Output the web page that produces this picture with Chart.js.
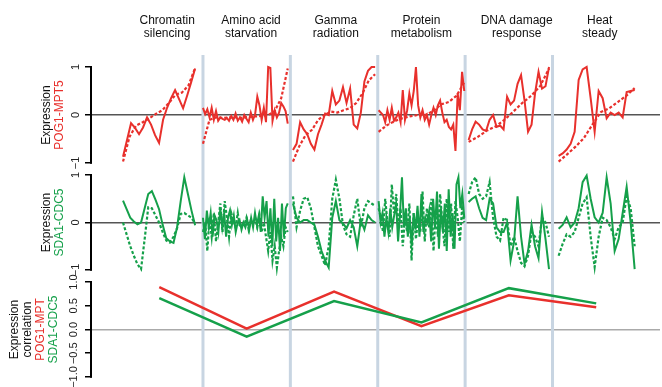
<!DOCTYPE html>
<html>
<head>
<meta charset="utf-8">
<script src="https://cdn.jsdelivr.net/npm/chart.js@4.4.1/dist/chart.umd.min.js"></script>
<style>
  html, body { margin: 0; padding: 0; background: #fff; }
</style>
</head>
<body>
<canvas id="graphCanvas" width="662" height="387"></canvas>
<script>
// conditions, one column each
var conditions = [
  ['Chromatin', 'silencing'],
  ['Amino acid', 'starvation'],
  ['Gamma', 'radiation'],
  ['Protein', 'metabolism'],
  ['DNA damage', 'response'],
  ['Heat', 'steady']
];

// POG1-MPT5 expression (solid / dotted), one list per condition
var pogSolid = [
  [-0.87,-0.52,-0.17,-0.27,-0.4,-0.26,-0.05,-0.2,-0.42,-0.58,-0.1,0.15,0.35,0.52,0.33,0.14,0.4,0.68,0.97],
  [0.15,0.02,0.12,-0.05,0.15,-0.1,0.08,-0.12,-0.05,-0.08,-0.1,-0.06,-0.12,-0.02,-0.1,0.03,-0.12,-0.05,-0.14,0.0,
   -0.08,-0.15,0.05,-0.1,0.02,0.38,0.2,-0.1,0.15,-0.15,1.0,0.98,-0.12,0.1,-0.05,0.05,0.25,0.18,0.08,-0.18],
  [-0.73,-0.6,-0.15,-0.3,-0.4,-0.6,-0.72,-0.4,-0.2,0.03,0.0,0.5,0.22,0.3,0.58,0.25,0.55,-0.2,-0.28,0.05,0.7,0.92,1.0,1.0],
  [0.1,0.05,0.0,-0.15,0.1,-0.1,0.15,-0.12,-0.05,0.05,-0.15,0.52,-0.1,0.1,0.45,0.2,0.5,1.0,0.2,-0.05,
   0.1,-0.1,0.0,-0.2,0.0,0.15,0.0,0.2,0.3,0.05,-0.15,-0.1,-0.25,-0.3,-0.2,-0.75,0.45,0.1,0.9,0.5],
  [-0.52,-0.3,-0.14,-0.2,-0.3,-0.33,-0.1,0.0,-0.25,-0.22,-0.3,0.38,0.22,0.3,0.65,0.83,0.3,-0.35,-0.2,0.45,0.9,0.55,0.6,1.0],
  [-0.85,-0.8,-0.72,-0.6,-0.35,0.73,0.95,1.0,0.35,-0.35,0.5,0.35,-0.07,0.05,0.0,0.05,-0.05,0.48,0.5,0.52]
];
var pogDotted = [
  [-0.97,-0.45,-0.22,-0.15,-0.07,0.02,0.1,0.25,0.42,0.47,0.62,0.98],
  [-0.6,-0.1,-0.05,-0.06,-0.05,-0.05,-0.06,-0.04,-0.03,-0.02,0.0,0.08,0.35,0.97],
  [-0.97,-0.65,-0.42,-0.31,-0.1,0.0,0.07,0.05,0.1,0.14,0.25,0.45,0.72,0.85],
  [-0.35,-0.22,-0.13,-0.07,-0.03,0.0,0.0,0.08,0.22,0.27,0.4,0.68],
  [-0.56,-0.46,-0.33,-0.24,-0.1,0.07,0.25,0.4,0.6,0.97],
  [-0.97,-0.82,-0.66,-0.48,-0.2,0.06,0.14,0.27,0.4,0.56]
];

// SDA1-CDC5 expression (solid / dotted)
var sdaSolid = [
  [0.46,0.28,0.1,0.02,-0.04,0.0,0.3,0.6,0.66,0.48,0.28,-0.05,-0.33,-0.4,-0.43,-0.1,0.45,0.95,0.6,0.25,-0.06],
  [0.1,-0.35,0.25,-0.1,0.2,-0.3,0.15,0.05,-0.2,0.3,-0.1,0.2,-0.3,0.1,0.25,-0.05,0.15,-0.2,0.0,0.05,
   -0.15,0.0,-0.1,0.05,-0.15,0.1,-0.1,0.2,-0.05,0.15,-0.2,0.55,0.1,0.45,-0.3,0.3,-0.5,0.5,-0.4,0.1,-0.6,0.4,-0.3,0.3,0.4],
  [0.4,0.1,0.0,0.05,0.05,0.0,-0.05,-0.3,-0.6,-0.8,-0.95,0.1,0.45,0.05,-0.02,-0.12,0.05,-0.1,-0.5,0.05,-0.15,0.15,0.05,0.0],
  [0.45,0.0,0.2,-0.3,0.1,-0.2,0.3,-0.1,0.15,0.4,-0.4,0.2,0.95,-0.1,0.3,-0.3,0.1,-0.5,0.2,-0.15,
   0.35,-0.3,0.6,-0.2,0.1,0.0,0.25,-0.4,0.5,-0.1,0.65,-0.55,0.3,-0.2,0.4,-0.6,0.7,-0.3,0.2,-0.55,0.8,0.95,0.3,0.6,0.1],
  [0.43,0.5,0.55,0.3,0.1,0.05,0.5,0.4,-0.1,-0.2,-0.2,0.0,-0.8,-0.4,0.55,-0.3,-0.87,-0.6,-0.05,-0.5,-0.75,0.22,-0.35,-0.98],
  [-0.13,-0.05,0.11,-0.1,0.0,0.3,0.85,0.99,0.5,0.11,0.0,0.2,0.95,0.4,-0.6,-0.35,0.2,0.75,0.0,-0.98]
];
var sdaDotted = [
  [0.0,-0.25,-0.5,-0.7,-0.88,-0.98,-0.35,0.32,0.3,0.15,0.0,-0.2,-0.38,-0.42,-0.3,-0.12,0.18,0.2,0.15,0.1,-0.02],
  [-0.2,0.0,-0.6,0.1,-0.3,0.2,-0.4,0.0,0.4,-0.2,0.45,0.1,-0.3,0.2,0.05,-0.1,0.2,-0.1,0.0,-0.05,
   0.1,-0.15,0.05,0.0,0.1,-0.1,0.15,-0.2,0.0,-0.3,-0.6,-0.2,-0.8,-0.5,-0.95,-0.6,-0.3,-0.5,-0.1,-0.2],
  [0.55,-0.1,0.25,0.5,0.53,0.3,-0.1,-0.5,-0.7,-0.9,-0.5,0.5,0.9,0.5,-0.05,-0.25,-0.3,0.15,0.5,-0.1,0.3,0.45,0.4,0.35],
  [0.3,0.1,-0.2,0.5,0.0,-0.3,0.8,0.2,0.6,-0.1,0.3,-0.5,0.1,-0.2,0.4,-0.8,0.2,-0.35,0.1,-0.2,
   0.65,-0.4,0.3,-0.1,0.5,-0.6,0.2,-0.3,0.6,0.0,-0.5,0.5,-0.2,0.4,-0.55,0.45,0.1,-0.4,0.3,0.0],
  [0.6,0.85,0.95,0.6,0.5,0.55,0.85,0.1,-0.3,-0.38,0.1,0.05,-0.5,-0.3,-0.6,-0.85,-0.92,-0.7,-0.2,-0.3,-0.5,0.1,0.0,-0.3],
  [-0.7,-0.45,-0.25,-0.3,-0.2,0.1,0.4,0.53,-0.3,-0.94,-0.3,0.1,0.05,-0.1,-0.35,-0.1,0.0,0.55,0.3,-0.5]
];

// expression correlation per condition
var corrPog = [0.89, 0.02, 0.8, 0.07, 0.72, 0.47];
var corrSda = [0.66, -0.15, 0.6, 0.15, 0.87, 0.55];

// tick labels
var exprTicks = [-1, 0, 1];
var corrTicks = [-1, -0.5, 0, 0.5, 1];

// ---- styling / layout ----
var RED = '#e8302c', GREEN = '#15a04a', SEP = '#c8d5e2';
var FONT = '"Liberation Sans", Arial, Helvetica, sans-serif';
var colStart = [0.085, 0.0, 0.03, 0.01, 0.04, 0.07];
var colEnd = [0.91, 0.97, 0.97, 0.99, 0.96, 0.94];
var headerNudge = [0.09, 0.05, 0.02, 0.0, 0.09, 0.04];

function toPoints(series) {
  var pts = [];
  series.forEach(function (vals, i) {
    var a = i + colStart[i], b = i + colEnd[i];
    vals.forEach(function (v, k) {
      pts.push({x: a + (b - a) * k / (vals.length - 1), y: v});
    });
    pts.push({x: i + 1, y: null});
  });
  return pts;
}
function centers(vals) {
  return vals.map(function (v, i) { return {x: i + 0.5, y: v}; });
}
function minus(s) { return s.replace('-', '\u2212'); }

function yScale(min, max, weight, order, ticks, zeroColor, pad, fmt) {
  return {
    type: 'linear', position: 'left', stack: 'panels', stackWeight: weight, weight: order,
    min: min, max: max,
    afterBuildTicks: function (s) { s.ticks = ticks.map(function (v) { return {value: v}; }); },
    afterFit: function (s) { s.width = 92; s.paddingTop = 0; s.paddingBottom = 0; },
    border: {display: false},
    grid: {
      color: function (c) { return c.tick && c.tick.value === 0 ? zeroColor : 'rgba(0,0,0,0)'; },
      lineWidth: 1.5, tickColor: '#000', tickLength: 7, tickWidth: 1.5
    },
    ticks: {
      autoSkip: false, minRotation: 90, maxRotation: 90, crossAlign: 'center', padding: pad,
      font: {size: 11, family: FONT}, color: '#222',
      callback: function (v) { return minus(fmt(v)); }
    }
  };
}

var titles = {
  yTop: {x: 60, lines: [['Expression', '#111'], ['POG1-MPT5', RED]]},
  yMid: {x: 60, lines: [['Expression', '#111'], ['SDA1-CDC5', GREEN]]},
  yBot: {x: 54, lines: [['Expression', '#111'], ['correlation', '#111'], ['POG1-MPT', RED], ['SDA1-CDC5', GREEN]]}
};

var panelPlugin = {
  id: 'panels',
  beforeDatasetsDraw: function (chart) {
    var ctx = chart.ctx, a = chart.chartArea, x = chart.scales.x;
    ctx.save();
    ctx.strokeStyle = SEP;
    ctx.lineWidth = 3;
    for (var k = 1; k < conditions.length; k++) {
      var px = x.getPixelForValue(k);
      ctx.beginPath();
      ctx.moveTo(px, a.top);
      ctx.lineTo(px, a.bottom);
      ctx.stroke();
    }
    ctx.restore();
  },
  afterDraw: function (chart) {
    var ctx = chart.ctx;
    ctx.save();
    ['yTop', 'yMid', 'yBot'].forEach(function (id) {
      var s = chart.scales[id];
      var top = s.getPixelForValue(1), bot = s.getPixelForValue(-1);
      ctx.strokeStyle = '#000';
      ctx.lineWidth = 2;
      ctx.beginPath();
      ctx.moveTo(s.right - 1, top - 0.75);
      ctx.lineTo(s.right - 1, bot + 0.75);
      ctx.stroke();
      var t = titles[id], cy = (top + bot) / 2;
      ctx.font = '12px ' + FONT;
      ctx.textAlign = 'center';
      ctx.textBaseline = 'middle';
      t.lines.forEach(function (ln, j) {
        ctx.save();
        ctx.translate(t.x - (t.lines.length - 1 - j) * 13, cy);
        ctx.rotate(-Math.PI / 2);
        ctx.fillStyle = ln[1];
        ctx.fillText(ln[0], 0, 0);
        ctx.restore();
      });
    });
    ctx.restore();
  }
};

function line(data, color, axis, dotted, width) {
  return {
    data: data, yAxisID: axis, borderColor: color, backgroundColor: color,
    borderWidth: width, borderDash: dotted ? [3, 2] : [], pointRadius: 0, tension: 0, fill: false
  };
}

var ctx = document.getElementById('graphCanvas');
var chart = new Chart(ctx, {
  type: 'line',
  data: {
    datasets: [
      line(toPoints(pogDotted), RED, 'yTop', true, 2.2),
      line(toPoints(pogSolid), RED, 'yTop', false, 2),
      line(toPoints(sdaDotted), GREEN, 'yMid', true, 2.2),
      line(toPoints(sdaSolid), GREEN, 'yMid', false, 2),
      line(centers(corrSda), GREEN, 'yBot', false, 2.5),
      line(centers(corrPog), RED, 'yBot', false, 2.5)
    ]
  },
  options: {
    responsive: false,
    animation: false,
    devicePixelRatio: 1,
    layout: {padding: {left: 0, right: 2, top: 0, bottom: 0}},
    plugins: {legend: {display: false}, tooltip: {enabled: false}},
    scales: {
      x: {
        type: 'linear', position: 'top', min: -0.27, max: 6.23,
        afterBuildTicks: function (s) {
          s.ticks = conditions.map(function (c, i) { return {value: i + 0.5 + headerNudge[i]}; });
        },
        afterFit: function (s) { s.height = 55; },
        grid: {display: false, drawTicks: false},
        border: {display: false},
        ticks: {
          autoSkip: false, maxRotation: 0, padding: 14,
          font: {size: 12, family: FONT, lineHeight: 1.15}, color: '#111',
          callback: function (v, i) { return conditions[i]; }
        }
      },
      yTop: yScale(-1.125, 1.25, 114, 3, exprTicks, '#555', 3, function (v) { return String(v); }),
      yMid: yScale(-1.126, 1.126, 107, 2, exprTicks, '#555', 3, function (v) { return String(v); }),
      yBot: yScale(-1.211, 1.126, 111, 1, corrTicks, '#aaa', 0, function (v) { return v.toFixed(1); })
    }
  },
  plugins: [panelPlugin]
});
</script>
</body>
</html>
